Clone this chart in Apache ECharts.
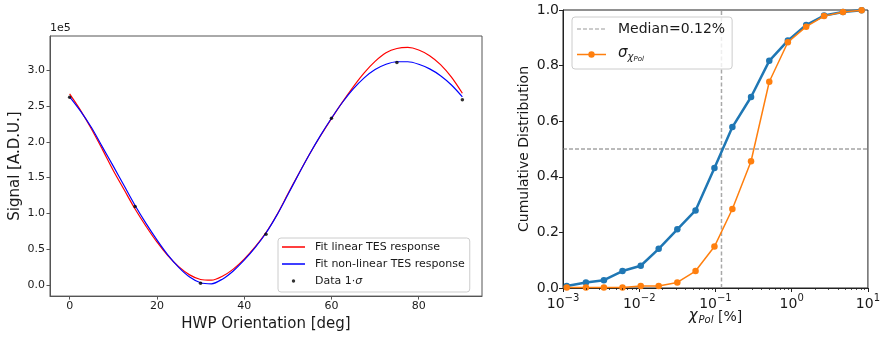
<!DOCTYPE html>
<html><head><meta charset="utf-8">
<script src="https://cdn.jsdelivr.net/npm/echarts@6/dist/echarts.min.js"></script>
<style>html,body{margin:0;padding:0;background:#fff}#c{width:883px;height:337px}</style>
</head><body><div id="c"></div>
<script>
// ---------- Left panel (signal in units of 1e5 A.D.U.) ----------
const hwpAngles = [0, 15, 30, 45, 60, 75, 90];
const dataSignal = [2.625, 1.097, 0.024, 0.708, 2.33, 3.11, 2.59];
const fitAngles = [0, 2.5, 5, 7.5, 10, 12.5, 15, 17.5, 20, 22.5, 25, 27.5, 30, 32.5, 35, 37.5, 40, 42.5, 45, 47.5, 50, 52.5, 55, 57.5, 60, 62.5, 65, 67.5, 70, 72.5, 75, 77.5, 80, 82.5, 85, 87.5, 90];
const fitLinear = [2.67, 2.44, 2.18, 1.895, 1.60, 1.33, 1.06, 0.82, 0.60, 0.41, 0.255, 0.14, 0.075, 0.065, 0.12, 0.22, 0.36, 0.53, 0.73, 0.98, 1.27, 1.555, 1.83, 2.085, 2.325, 2.555, 2.77, 2.965, 3.125, 3.245, 3.305, 3.32, 3.285, 3.205, 3.08, 2.905, 2.68];
const fitNonLinear = [2.63, 2.43, 2.20, 1.93, 1.66, 1.385, 1.11, 0.86, 0.63, 0.42, 0.245, 0.11, 0.03, 0.015, 0.08, 0.195, 0.345, 0.52, 0.725, 0.975, 1.26, 1.55, 1.83, 2.09, 2.33, 2.55, 2.74, 2.895, 3.01, 3.085, 3.12, 3.12, 3.085, 3.02, 2.925, 2.795, 2.63];
const leftXTicks = [0, 20, 40, 60, 80];
const leftYTicks = [0, 0.5, 1.0, 1.5, 2.0, 2.5, 3.0];

// ---------- Right panel ----------
const chiPol = [0.00112, 0.0020, 0.00344, 0.00603, 0.01047, 0.0180, 0.0316, 0.0548, 0.0970, 0.1667, 0.293, 0.508, 0.891, 1.549, 2.66, 4.71, 8.27];
const cdfChi = [0.007, 0.020, 0.028, 0.061, 0.080, 0.141, 0.211, 0.279, 0.432, 0.579, 0.687, 0.817, 0.890, 0.946, 0.980, 0.993, 0.999];
const cdfSigma = [0.002, 0.002, 0.002, 0.002, 0.007, 0.007, 0.020, 0.061, 0.149, 0.284, 0.456, 0.742, 0.884, 0.940, 0.978, 0.993, 0.999];
const medianX = [0.12, 0.12];
const medianY = [0, 1];
const halfX = [0.001, 10];
const halfY = [0.5, 0.5];
const minorTicks = [0.002,0.003,0.004,0.005,0.006,0.007,0.008,0.009,
                    0.02,0.03,0.04,0.05,0.06,0.07,0.08,0.09,
                    0.2,0.3,0.4,0.5,0.6,0.7,0.8,0.9,
                    2,3,4,5,6,7,8,9];

const FONT = 'DejaVu Sans';
const TXT = '#1a1a1a';
const pairs = (xs, ys) => xs.map((x, i) => [x, ys[i]]);
const DATA_NAME = 'Data 1\u00b7\u03c3';

const chart = echarts.init(document.getElementById('c'), null, {renderer: 'canvas'});
const lineIcon = 'path://M0,0 L0.001,0 Z M0,6.35 L23,6.35 L23,7.65 L0,7.65 Z M28,14 L28.001,14 Z';
const dotIcon = 'path://M0,0 L0.001,0 Z M9.8,7 A1.7,1.7 0 1,1 13.2,7 A1.7,1.7 0 1,1 9.8,7 Z M28,14 L28.001,14 Z';
const dashIcon = 'path://M0,0 L0.001,0 Z M0,6.4 L4,6.4 L4,7.6 L0,7.6 Z M6,6.4 L10,6.4 L10,7.6 L6,7.6 Z M12,6.4 L16,6.4 L16,7.6 L12,7.6 Z M18,6.4 L22,6.4 L22,7.6 L18,7.6 Z M24,6.4 L28,6.4 L28,7.6 L24,7.6 Z M36,14 L36.001,14 Z';
const markIcon = 'path://M0,0 L0.001,0 Z M0,6.25 L29,6.25 L29,7.75 L0,7.75 Z M11.3,7 A3.2,3.2 0 1,1 17.7,7 A3.2,3.2 0 1,1 11.3,7 Z M36,14 L36.001,14 Z';

chart.setOption({
  animation: false,
  textStyle: {fontFamily: FONT, color: TXT},
  grid: [
    {left: 50, top: 36, width: 432, height: 262, show: true, borderColor: '#555', borderWidth: 1, backgroundColor: 'transparent'},
    {left: 563, top: 10, width: 306, height: 278, show: true, borderColor: '#222', borderWidth: 1, backgroundColor: 'transparent'}
  ],
  xAxis: [
    {gridIndex: 0, type: 'value', min: -4.5, max: 94.5,
     axisLine: {show: true, onZero: false, lineStyle: {color: '#555'}},
     axisTick: {show: true, length: 3.5, lineStyle: {color: '#555'}, customValues: leftXTicks},
     axisLabel: {fontSize: 11, color: TXT, margin: 5, customValues: leftXTicks, formatter: v => String(v)},
     splitLine: {show: false},
     name: 'HWP Orientation [deg]', nameLocation: 'middle', nameGap: 20,
     nameTextStyle: {fontSize: 15, color: TXT, fontFamily: FONT}},
    {gridIndex: 1, type: 'log', logBase: 10, min: 0.001, max: 10,
     axisLine: {show: true, onZero: false, lineStyle: {color: '#222'}},
     axisTick: {show: true, length: 4, lineStyle: {color: '#222'}},
     axisLabel: {margin: 5, color: TXT,
       formatter: v => { const e = Math.round(Math.log10(v)); return '{b|10}{s|' + (e < 0 ? '\u2212' : '') + Math.abs(e) + '}'; },
       rich: {b: {fontSize: 14, fontFamily: FONT, color: TXT, verticalAlign: 'top', padding: [4, 0, 0, 0]},
              s: {fontSize: 10, fontFamily: FONT, color: TXT, verticalAlign: 'top', padding: [0, 0, 0, 0]}}},
     splitLine: {show: false}, minorTick: {show: false},
     name: '{c|\u03c7}{p|Pol}{n| [%]}', nameLocation: 'middle', nameGap: 21, nameMoveOverlap: false,
     nameTextStyle: {rich: {
       c: {fontSize: 15, fontStyle: 'italic', fontFamily: FONT, color: TXT, verticalAlign: 'top', padding: [0, 0, 0, 0]},
       p: {fontSize: 10, fontStyle: 'italic', fontFamily: FONT, color: TXT, verticalAlign: 'top', padding: [6, 0, 0, 1]},
       n: {fontSize: 14, fontFamily: FONT, color: TXT, verticalAlign: 'top', padding: [1, 0, 0, 0]}}}}
  ],
  yAxis: [
    {gridIndex: 0, type: 'value', min: -0.157, max: 3.48,
     axisLine: {show: true, onZero: false, lineStyle: {color: '#555'}},
     axisTick: {show: true, length: 3.5, lineStyle: {color: '#555'}, customValues: leftYTicks},
     axisLabel: {fontSize: 11, color: TXT, margin: 5, customValues: leftYTicks, formatter: v => v.toFixed(1)},
     splitLine: {show: false},
     name: 'Signal [A.D.U.]', nameLocation: 'middle', nameGap: 27,
     nameTextStyle: {fontSize: 15, color: TXT, fontFamily: FONT}},
    {gridIndex: 1, type: 'value', min: 0, max: 1, interval: 0.2,
     axisLine: {show: true, onZero: false, lineStyle: {color: '#222'}},
     axisTick: {show: true, length: 4, lineStyle: {color: '#222'}},
     axisLabel: {fontSize: 14, color: TXT, margin: 4, formatter: v => v.toFixed(1)},
     splitLine: {show: false},
     name: 'Cumulative Distribution', nameLocation: 'middle', nameGap: 32,
     nameTextStyle: {fontSize: 14, color: TXT, fontFamily: FONT}}
  ],
  graphic: [
    {type: 'text', left: 50, top: 23, style: {text: '1e5', fontSize: 11, fontFamily: FONT, fill: TXT}}
  ],
  legend: [
    {left: 278, top: 238, orient: 'vertical', selectedMode: false,
     padding: [2, 5, 4, 4], itemWidth: 28, itemHeight: 14, itemGap: 3,
     borderColor: '#cccccc', borderWidth: 1, borderRadius: 3, backgroundColor: 'rgba(255,255,255,0.8)',
     itemStyle: {borderWidth: 0}, lineStyle: {width: 0},
     textStyle: {fontSize: 11, fontFamily: FONT, color: TXT,
       rich: {t: {fontSize: 11, fontFamily: FONT, color: TXT}, i: {fontSize: 11, fontStyle: 'italic', fontFamily: FONT, color: TXT}}},
     data: [
       {name: 'Fit linear TES response', icon: lineIcon},
       {name: 'Fit non-linear TES response', icon: lineIcon},
       {name: DATA_NAME, icon: dotIcon}
     ],
     formatter: n => n === DATA_NAME ? '{t|Data 1\u00b7}{i|\u03c3}' : n
    },
    {left: 572, top: 17, orient: 'vertical', selectedMode: false,
     padding: [5, 7, 6, 5], itemWidth: 36, itemHeight: 14, itemGap: 10,
     borderColor: '#cccccc', borderWidth: 1, borderRadius: 3, backgroundColor: 'rgba(255,255,255,0.8)',
     itemStyle: {borderWidth: 0}, lineStyle: {width: 0},
     textStyle: {fontSize: 14, fontFamily: FONT, color: TXT,
       rich: {s: {fontSize: 15, fontStyle: 'italic', fontFamily: FONT, color: TXT, verticalAlign: 'top'},
              c: {fontSize: 10, fontStyle: 'italic', fontFamily: FONT, color: TXT, verticalAlign: 'top', padding: [6, 0, 0, 0]},
              p: {fontSize: 7, fontStyle: 'italic', fontFamily: FONT, color: TXT, verticalAlign: 'top', padding: [10, 0, 0, 0]}}},
     data: [
       {name: 'Median=0.12%', icon: dashIcon},
       {name: 'sigmaChiPol', icon: markIcon}
     ],
     formatter: n => n === 'sigmaChiPol' ? '{s|\u03c3}{c|\u03c7}{p|Pol}' : n}
  ],
  series: [
    {name: 'Fit linear TES response', type: 'line', xAxisIndex: 0, yAxisIndex: 0,
     data: pairs(fitAngles, fitLinear), symbol: 'none', smooth: 0.3,
     color: '#ff0000', lineStyle: {color: '#ff0000', width: 1.2}, z: 2},
    {name: 'Fit non-linear TES response', type: 'line', xAxisIndex: 0, yAxisIndex: 0,
     data: pairs(fitAngles, fitNonLinear), symbol: 'none', smooth: 0.3,
     color: '#0000ff', lineStyle: {color: '#0000ff', width: 1.2}, z: 3},
    {name: DATA_NAME, type: 'scatter', xAxisIndex: 0, yAxisIndex: 0,
     data: pairs(hwpAngles, dataSignal), symbol: 'circle', symbolSize: 3.5,
     color: '#000', itemStyle: {color: '#000'}, z: 5},

    {name: 'Median=0.12%', type: 'line', xAxisIndex: 1, yAxisIndex: 1,
     data: pairs(medianX, medianY), symbol: 'none', color: '#9a9a9a',
     lineStyle: {color: '#a8a8a8', width: 1.5, type: [4, 2.5]}, z: 1},
    {name: 'half', type: 'line', xAxisIndex: 1, yAxisIndex: 1,
     data: pairs(halfX, halfY), symbol: 'none', color: '#777',
     lineStyle: {color: '#777', width: 1, type: [4, 2]}, z: 1},
    {name: 'chiPol', type: 'line', xAxisIndex: 1, yAxisIndex: 1,
     data: pairs(chiPol, cdfChi), symbol: 'circle', symbolSize: 6.5, showSymbol: true,
     color: '#1f77b4', itemStyle: {color: '#1f77b4'}, lineStyle: {color: '#1f77b4', width: 2.5}, z: 3},
    {name: 'sigmaChiPol', type: 'line', xAxisIndex: 1, yAxisIndex: 1,
     data: pairs(chiPol, cdfSigma), symbol: 'circle', symbolSize: 6.5, showSymbol: true,
     color: '#ff7f0e', itemStyle: {color: '#ff7f0e'}, lineStyle: {color: '#ff7f0e', width: 1.5}, z: 4},
    {name: 'minorTicks', type: 'custom', xAxisIndex: 1, yAxisIndex: 1, silent: true, clip: false, z: 10,
     data: minorTicks.map(v => [v, 0]),
     renderItem: (p, api) => {
       const pt = api.coord([api.value(0), 0]);
       const x = Math.round(pt[0]) + 0.5;
       return {type: 'line', shape: {x1: x, y1: pt[1], x2: x, y2: pt[1] + 2}, style: {stroke: '#222', lineWidth: 0.8}};
     }}
  ]
});
</script>
</body></html>
